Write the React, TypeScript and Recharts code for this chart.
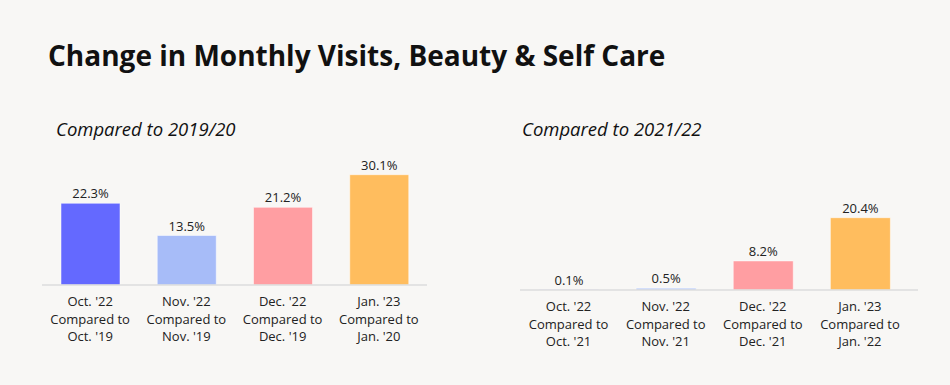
import * as React from 'react';
import { BarChart, Bar, XAxis, YAxis, Cell, LabelList } from 'recharts';

const months: string[] = ["Oct. '22", "Nov. '22", "Dec. '22", "Jan. '23"];
const baseMonths2019: string[] = ["Oct. '19", "Nov. '19", "Dec. '19", "Jan. '20"];
const baseMonths2021: string[] = ["Oct. '21", "Nov. '21", "Dec. '21", "Jan. '22"];
const vs2019: number[] = [22.3, 13.5, 21.2, 30.1];
const vs2021: number[] = [0.1, 0.5, 8.2, 20.4];
const barColors: string[] = ['#6469ff', '#a7bcf8', '#ff9ea2', '#ffbd5e'];

const FONT = '"Open Sans", sans-serif';

const buildRows = (values: number[], bases: string[]) =>
  values.map((v, i) => ({ name: months[i], base: bases[i], value: v }));

const MonthTick = (props: any) => {
  const { x, y, payload, bases } = props;
  const idx = months.indexOf(payload.value);
  return (
    <text x={x} y={y} textAnchor="middle" fill="#222" fontSize={13} fontFamily={FONT}>
      <tspan x={x} dy={13}>{payload.value}</tspan>
      <tspan x={x} dy={17.5}>Compared to</tspan>
      <tspan x={x} dy={17.5}>{bases[idx]}</tspan>
    </text>
  );
};

interface PanelProps {
  values: number[];
  bases: string[];
  width: number;
  margin: { top: number; right: number; left: number; bottom: number };
  padRight: number;
  barSize: number;
}

const Panel = (props: PanelProps) => {
  const rows = buildRows(props.values, props.bases);
  return (
    <BarChart width={props.width} height={385} data={rows} margin={props.margin}>
      <XAxis
        dataKey="name"
        height={60}
        axisLine={{ stroke: '#dcdcdc', strokeWidth: 1.5 }}
        tickLine={false}
        interval={0}
        padding={{ left: 0, right: props.padRight }}
        tick={<MonthTick bases={props.bases} />}
      />
      <YAxis hide domain={[0, 'dataMax']} />
      <Bar dataKey="value" barSize={props.barSize} isAnimationActive={false} stroke="#ffffff" strokeOpacity={0.5}>
        {rows.map((r, i) => (
          <Cell key={r.name} fill={barColors[i]} />
        ))}
        <LabelList
          dataKey="value"
          position="top"
          offset={5}
          formatter={(v: any) => v + '%'}
          style={{ fontSize: 13, fontFamily: FONT, fill: '#222' }}
        />
      </Bar>
    </BarChart>
  );
};

const App = () => {
  return (
    <div style={{ position: 'fixed', left: 0, top: 0, width: 950, height: 385, background: '#f8f7f5', fontFamily: FONT }}>
      <div style={{ position: 'absolute', left: 48, top: 36, fontSize: 28, fontWeight: 700, color: '#111', whiteSpace: 'nowrap' }}>
        Change in Monthly Visits, Beauty &amp; Self Care
      </div>
      <div style={{ position: 'absolute', left: 56, top: 116, fontSize: 18.5, fontStyle: 'italic', color: '#111' }}>
        Compared to 2019/20
      </div>
      <div style={{ position: 'absolute', left: 522, top: 116, fontSize: 18.5, fontStyle: 'italic', color: '#111' }}>
        Compared to 2021/22
      </div>
      <div style={{ position: 'absolute', left: 0, top: 0 }}>
        <Panel values={vs2019} bases={baseMonths2019} width={450} barSize={59} padRight={0}
          margin={{ top: 174.7, right: 23, left: 42, bottom: 40 }} />
      </div>
      <div style={{ position: 'absolute', left: 470, top: 0 }}>
        <Panel values={vs2021} bases={baseMonths2021} width={480} barSize={60} padRight={9.5}
          margin={{ top: 217.7, right: 32, left: 50, bottom: 35 }} />
      </div>
    </div>
  );
};

export default App;
